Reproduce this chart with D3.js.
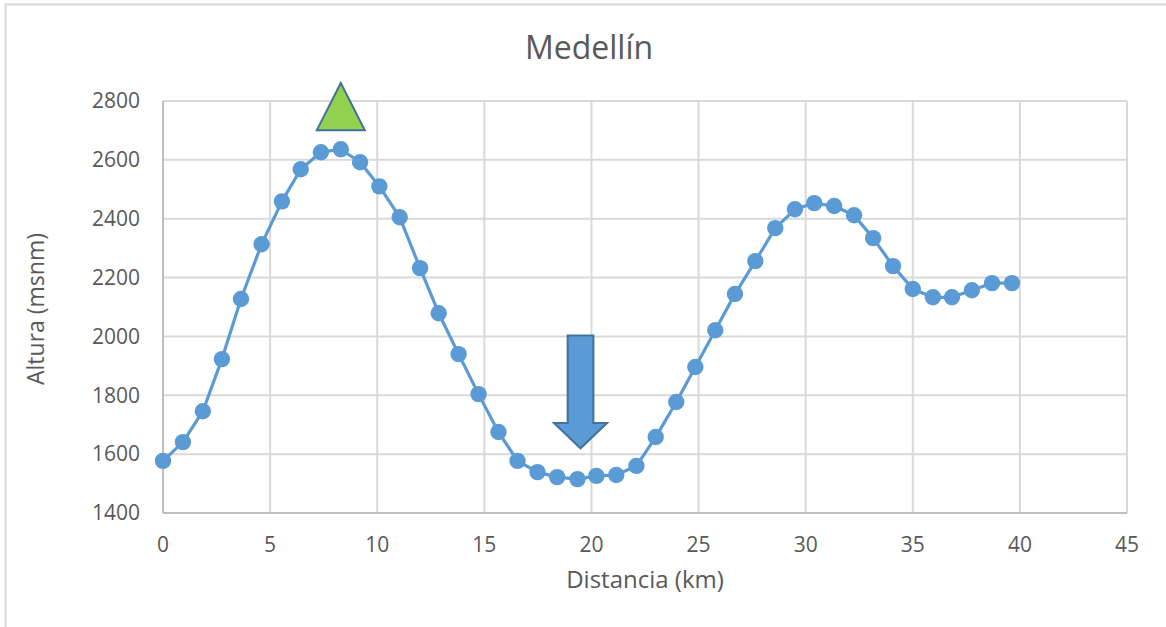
<!DOCTYPE html>
<html><head><meta charset="utf-8">
<script src="https://cdn.jsdelivr.net/npm/d3@7"></script>
<style>
html,body{margin:0;padding:0;background:#fff;}
svg{display:block;font-family:"Open Sans",sans-serif;}
</style></head>
<body><svg id="c" width="1166" height="627"></svg>
<script>
const distKm = [0,0.93,1.86,2.75,3.64,4.6,5.55,6.43,7.37,8.3,9.2,10.1,11.05,12.0,12.87,13.8,14.73,15.66,16.55,17.48,18.4,19.35,20.23,21.16,22.1,23.0,23.96,24.85,25.78,26.7,27.65,28.58,29.5,30.4,31.33,32.26,33.15,34.08,35.0,35.94,36.83,37.76,38.7,39.63];
const altura = [1577,1641,1746,1923,2127,2313,2459,2568,2626,2636,2592,2510,2405,2232,2079,1940,1804,1675,1577,1539,1522,1515,1526,1529,1560,1658,1777,1896,2021,2144,2256,2368,2432,2453,2443,2412,2334,2239,2161,2133,2133,2157,2181,2181];
const xTicks = [0,5,10,15,20,25,30,35,40,45];
const yTicks = [1400,1600,1800,2000,2200,2400,2600,2800];
const title = "Medellín";
const xTitle = "Distancia (km)";
const yTitle = "Altura (msnm)";
// annotations (data coordinates)
const peakMark = {x:8.3, base:2701, apex:2861, halfW:1.12};
const lowMark = {x:19.49, top:2003, neck:1706, tip:1620, shaftHalf:0.6, headHalf:1.24};

const svg = d3.select("#c");
const grey = "#595959";
const x = d3.scaleLinear().domain([0,45]).range([163,1127]);
const y = d3.scaleLinear().domain([1400,2800]).range([513,101]);

// outer border
svg.append("rect").attr("x",5.5).attr("y",4.5).attr("width",1200).attr("height",700)
  .attr("fill","#fff").attr("stroke","#d9d9d9").attr("stroke-width",2);

// gridlines
svg.append("g").selectAll("line").data(yTicks).join("line")
  .attr("x1",x(0)).attr("x2",x(45)).attr("y1",d=>y(d)).attr("y2",d=>y(d))
  .attr("stroke","#d9d9d9").attr("stroke-width",2);
svg.append("g").selectAll("line").data(xTicks).join("line")
  .attr("y1",y(1400)).attr("y2",y(2800)).attr("x1",d=>x(d)).attr("x2",d=>x(d))
  .attr("stroke","#d9d9d9").attr("stroke-width",2);
// axes lines
svg.append("line").attr("x1",x(0)).attr("x2",x(45)).attr("y1",y(1400)).attr("y2",y(1400))
  .attr("stroke","#bfbfbf").attr("stroke-width",2);
svg.append("line").attr("x1",x(0)).attr("x2",x(0)).attr("y1",y(1400)).attr("y2",y(2800))
  .attr("stroke","#bfbfbf").attr("stroke-width",2);

// tick labels
svg.append("g").selectAll("text").data(yTicks).join("text")
  .attr("x",140).attr("y",d=>y(d)).attr("dy","0.35em").attr("text-anchor","end")
  .attr("font-size",21).attr("fill",grey).text(d=>d);
svg.append("g").selectAll("text").data(xTicks).join("text")
  .attr("x",d=>x(d)).attr("y",545).attr("dy","0.35em").attr("text-anchor","middle")
  .attr("font-size",21).attr("fill",grey).text(d=>d);

// titles
svg.append("text").attr("x",589).attr("y",48).attr("dy","0.35em").attr("text-anchor","middle")
  .attr("font-size",32).attr("fill",grey).text(title);
svg.append("text").attr("x",645).attr("y",580).attr("dy","0.35em").attr("text-anchor","middle")
  .attr("font-size",24).attr("fill",grey).text(xTitle);
svg.append("text").attr("transform","translate(36,309) rotate(-90)").attr("dy","0.35em")
  .attr("text-anchor","middle").attr("font-size",23).attr("fill",grey).text(yTitle);

// series
const pts = distKm.map((d,i)=>[d,altura[i]]);
svg.append("path").datum(pts)
  .attr("d",d3.line().x(d=>x(d[0])).y(d=>y(d[1])))
  .attr("fill","none").attr("stroke","#5b9bd5").attr("stroke-width",3.2).attr("stroke-linejoin","round");
svg.append("g").selectAll("circle").data(pts).join("circle")
  .attr("cx",d=>x(d[0])).attr("cy",d=>y(d[1])).attr("r",8.2).attr("fill","#5b9bd5");

// triangle
const t = peakMark;
svg.append("path").attr("d",`M${x(t.x)},${y(t.apex)} L${x(t.x+t.halfW)},${y(t.base)} L${x(t.x-t.halfW)},${y(t.base)} Z`)
  .attr("fill","#92d050").attr("stroke","#41719c").attr("stroke-width",2).attr("stroke-linejoin","miter");
// arrow
const a = lowMark;
svg.append("path").attr("d",
  `M${x(a.x-a.shaftHalf)},${y(a.top)} L${x(a.x+a.shaftHalf)},${y(a.top)} L${x(a.x+a.shaftHalf)},${y(a.neck)} L${x(a.x+a.headHalf)},${y(a.neck)} L${x(a.x)},${y(a.tip)} L${x(a.x-a.headHalf)},${y(a.neck)} L${x(a.x-a.shaftHalf)},${y(a.neck)} Z`)
  .attr("fill","#5b9bd5").attr("stroke","#41719c").attr("stroke-width",2);
</script></body></html>
